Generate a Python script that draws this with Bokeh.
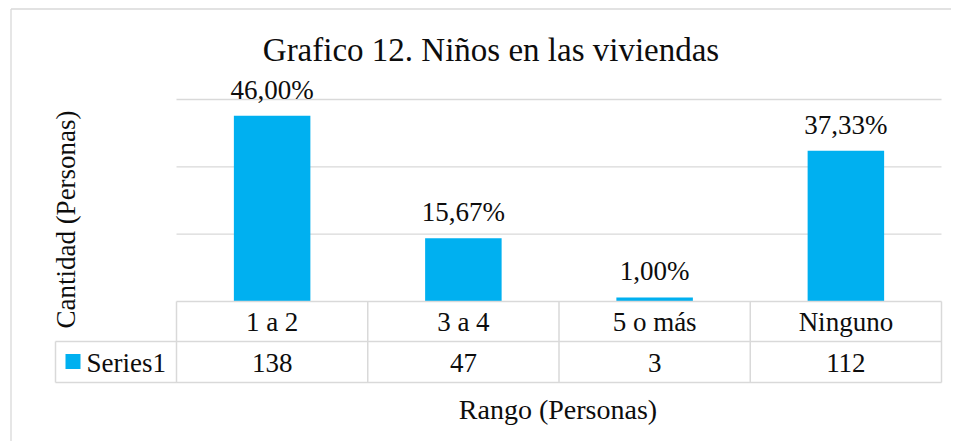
import math
from bokeh.plotting import figure
from bokeh.models import Range1d
from bokeh.core.properties import value
from bokeh.embed import file_html
from bokeh.resources import INLINE

# ---------------- data ----------------
title_text = "Grafico 12. Niños en las viviendas"
categories = ["1 a 2", "3 a 4", "5 o más", "Ninguno"]
counts = [138, 47, 3, 112]
series_name = "Series1"
y_axis_title = "Cantidad (Personas)"
x_axis_title = "Rango (Personas)"
grid_ticks = [0, 50, 100, 150]

total = sum(counts)
pct_labels = [f"{c / total * 100:.2f}%".replace(".", ",") for c in counts]

# ---------------- layout (page pixels) ----------------
W, H = 951, 441
PAGE = 0
PLOT_L, PLOT_R = 176, 941
BASE_Y, TOP_Y = 301, 99
n = len(categories)
px_per_x = (PLOT_R - PLOT_L) / n
px_per_y = (BASE_Y - TOP_Y) / grid_ticks[-1]
DY = 10  # baseline correction (px)


def xd(px):
    return (px - PLOT_L) / px_per_x


def yd(py):
    return (BASE_Y - py) / px_per_y


FONT = value("Liberation Serif")
TXT = "#0d0d0d"
LINE = "#d9d9d9"
BAR = "#00b0f0"
LBL = "27px"

p = figure(width=W, height=H, output_backend="svg", toolbar_location=None,
           x_range=Range1d(xd(PAGE), xd(PAGE + W)),
           y_range=Range1d(yd(PAGE + H), yd(PAGE)),
           x_axis_location=None, y_axis_location=None,
           min_border=0, outline_line_color=None)
p.grid.visible = False
p.background_fill_color = "white"
p.border_fill_color = "white"

xs = [i + 0.5 for i in range(n)]

# outer chart border (left + top)
p.segment(x0=[xd(10.5), xd(10.5)], y0=[yd(8.5), yd(8.5)],
          x1=[xd(10.5), xd(PAGE + W)], y1=[yd(PAGE + H), yd(8.5)],
          line_color=LINE, line_width=1.3)

# gridlines
gt = grid_ticks[1:]
p.segment(x0=[0] * len(gt), y0=gt, x1=[n] * len(gt), y1=gt,
          line_color=LINE, line_width=1.3)

# bars
p.vbar(x=xs, top=counts, bottom=0, width=0.4, fill_color=BAR, line_color=None)

# data labels
p.text(x=xs, y=counts, text=pct_labels, y_offset=-16 - DY,
       text_font=FONT, text_font_size=LBL, text_color=TXT,
       text_align="center", text_baseline="alphabetic")

# data table lines
row1_top, row2_top, row2_bot = 0, yd(341), yd(382)
leg_l = xd(55)
hx0 = [0, leg_l, leg_l]
hx1 = [n, n, n]
hy = [row1_top, row2_top, row2_bot]
p.segment(x0=hx0, y0=hy, x1=hx1, y1=hy, line_color=LINE, line_width=1.5)
vx = [leg_l] + list(range(n + 1))
vy0 = [row2_top] + [row1_top] * (n + 1)
vy1 = [row2_bot] * (n + 2)
p.segment(x0=vx, y0=vy0, x1=vx, y1=vy1, line_color=LINE, line_width=1.5)

# category row
p.text(x=xs, y=[yd(331 - DY)] * n, text=categories,
       text_font=FONT, text_font_size=LBL, text_color=TXT,
       text_align="center", text_baseline="alphabetic")
# values row
p.text(x=xs, y=[yd(372 - DY)] * n, text=[str(c) for c in counts],
       text_font=FONT, text_font_size=LBL, text_color=TXT,
       text_align="center", text_baseline="alphabetic")
# legend key
p.scatter(x=[xd(72.5)], y=[yd(361)], marker="square", size=15,
          fill_color=BAR, line_color=None)
p.text(x=[xd(86)], y=[yd(372 - DY)], text=[series_name],
       text_font=FONT, text_font_size=LBL, text_color=TXT,
       text_align="left", text_baseline="alphabetic")

# titles
p.text(x=[xd(490.5)], y=[yd(59 - DY)], text=[title_text],
       text_font=FONT, text_font_size="33px", text_color=TXT,
       text_align="center", text_baseline="alphabetic")
p.text(x=[xd(557.5)], y=[yd(419 - DY)], text=[x_axis_title],
       text_font=FONT, text_font_size="28px", text_color=TXT,
       text_align="center", text_baseline="alphabetic")
p.text(x=[xd(75 - DY)], y=[yd(219)], text=[y_axis_title], angle=math.pi / 2,
       text_font=FONT, text_font_size="27px", text_color=TXT,
       text_align="center", text_baseline="alphabetic")

open("out.html", "w").write(file_html(p, INLINE))
